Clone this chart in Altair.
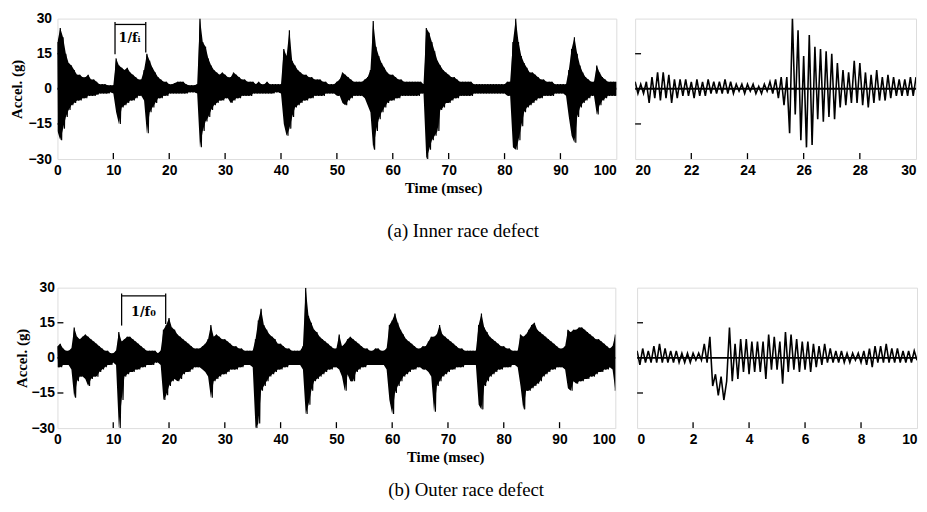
import altair as alt
import pandas as pd

# ---------------- data ----------------
# Main panels: upper / lower envelope of the acceleration signal, one value every 0.5 ms (0..100 ms)
MAIN_STEP = 0.5
INNER_UP = [
    20, 26, 22, 15, 11, 10, 8, 6, 6, 5,
    5, 6, 4, 4, 3, 2, 2, 2, 1.5, 1.5,
    1.5, 13, 10, 9, 8, 9, 7, 6, 5, 4,
    4, 8, 15, 12, 9, 7, 5, 4, 3, 3,
    2, 2, 2.5, 3, 3, 3, 2, 1.5, 1.5, 1.5,
    2, 30, 20, 18, 13, 10, 8, 7, 6, 7,
    6, 5, 5, 7, 6, 5, 4, 4, 3, 3,
    3, 2, 3, 2, 2, 3, 2, 2, 2, 2,
    2, 17, 14, 25, 12, 10, 8, 7, 6, 6,
    5, 5, 4, 4, 4, 3, 3, 2, 2, 2,
    3, 4, 7, 6, 5, 4, 3, 3, 3, 3,
    4, 5, 8, 29, 18, 14, 11, 9, 7, 6,
    6, 5, 4, 4, 3, 3, 3, 3, 3, 3,
    3, 2, 26, 24, 20, 16, 12, 10, 8, 7,
    6, 5, 5, 4, 3, 3, 3, 3, 3, 2,
    2, 2, 2, 2, 2, 2, 2, 2, 2, 2,
    2, 3, 3, 20, 30, 20, 14, 11, 9, 7,
    7, 6, 5, 4, 4, 3, 3, 3, 2, 2,
    2, 2, 2, 8, 17, 22, 15, 10, 7, 5,
    4, 3, 3, 10, 7, 5, 4, 3, 3, 3,
    3,
]
INNER_LO = [
    -18, -22, -17, -12, -9, -7, -6, -5, -5, -4,
    -4, -3, -3, -3, -2.5, -2, -2, -2, -2, -1.5,
    -2, -10, -15, -8, -7, -6, -5, -5, -4, -3,
    -3, -5, -19, -10, -8, -6, -4, -4, -3, -3,
    -2, -2, -2, -2, -2, -2, -2, -1.5, -1.5, -1.5,
    -2, -25, -18, -14, -12, -9, -7, -6, -5, -5,
    -4, -4, -6, -5, -4, -4, -3, -3, -3, -3,
    -2, -2, -2, -2, -2, -2, -2, -2, -1.5, -1.5,
    -2, -15, -20, -17, -12, -8, -7, -6, -5, -5,
    -4, -4, -3, -3, -3, -3, -2, -2, -2, -2,
    -3, -3, -6, -7, -5, -4, -3, -3, -3, -3,
    -4, -7, -10, -26, -18, -13, -10, -8, -6, -5,
    -5, -4, -4, -3, -3, -3, -3, -3, -3, -3,
    -2, -2, -30, -26, -22, -20, -18, -9, -8, -6,
    -6, -5, -4, -4, -3, -3, -3, -3, -3, -2,
    -2, -2, -2, -2, -2, -2, -2, -2, -2, -2,
    -2, -3, -3, -25, -26, -22, -16, -10, -8, -7,
    -6, -5, -4, -4, -3, -3, -3, -3, -2, -2,
    -2, -2, -3, -12, -20, -23, -12, -8, -6, -5,
    -4, -3, -3, -11, -7, -5, -4, -3, -3, -3,
    -3,
]
OUTER_UP = [
    5, 6, 4, 3, 3, 4, 13, 9, 8, 9,
    10, 9, 8, 7, 6, 5, 4, 3, 3, 2,
    2, 3, 11, 7, 8, 9, 9, 8, 7, 6,
    5, 4, 3, 3, 3, 3, 2, 3, 12, 14,
    17, 13, 12, 10, 9, 8, 7, 6, 5, 4,
    4, 4, 5, 6, 8, 14, 9, 10, 9, 8,
    8, 7, 6, 5, 5, 4, 4, 3, 3, 3,
    3, 8, 16, 21, 14, 12, 10, 9, 8, 6,
    6, 5, 4, 4, 3, 3, 3, 3, 5, 30,
    18, 15, 12, 11, 9, 8, 7, 6, 5, 4,
    4, 10, 5, 6, 8, 9, 8, 7, 6, 5,
    4, 4, 3, 3, 4, 4, 3, 3, 4, 14,
    16, 19, 15, 12, 10, 8, 7, 6, 5, 4,
    4, 5, 5, 7, 9, 9, 10, 14, 10, 9,
    8, 7, 6, 5, 4, 4, 3, 3, 3, 3,
    3, 14, 19, 13, 11, 9, 8, 7, 6, 5,
    5, 4, 4, 3, 3, 3, 10, 9, 10, 12,
    14, 15, 12, 11, 10, 9, 8, 7, 6, 5,
    4, 4, 5, 12, 11, 12, 12, 13, 13, 12,
    11, 10, 9, 8, 8, 7, 6, 5, 4, 5,
    10,
]
OUTER_LO = [
    -4, -4, -3, -3, -3, -5, -17, -10, -8, -8,
    -9, -12, -9, -8, -8, -6, -5, -4, -3, -3,
    -2, -3, -30, -18, -8, -7, -6, -6, -5, -5,
    -4, -4, -3, -3, -3, -2, -2, -3, -18, -16,
    -12, -10, -9, -10, -9, -7, -6, -6, -5, -4,
    -4, -4, -5, -6, -8, -17, -10, -9, -8, -7,
    -7, -6, -5, -5, -5, -4, -4, -3, -3, -3,
    -4, -30, -28, -14, -12, -10, -8, -7, -6, -5,
    -5, -4, -4, -3, -3, -3, -3, -3, -5, -24,
    -20, -14, -10, -9, -8, -7, -6, -5, -5, -4,
    -4, -5, -8, -14, -7, -10, -10, -6, -5, -4,
    -4, -3, -3, -3, -3, -3, -3, -3, -5, -18,
    -24, -15, -12, -10, -8, -7, -6, -5, -5, -4,
    -4, -5, -5, -6, -8, -23, -12, -10, -8, -7,
    -6, -5, -5, -4, -4, -4, -3, -3, -3, -3,
    -3, -20, -22, -12, -10, -8, -7, -6, -5, -5,
    -4, -4, -4, -3, -3, -4, -12, -22, -14, -14,
    -13, -12, -11, -10, -8, -7, -6, -5, -5, -4,
    -4, -4, -5, -13, -14, -10, -11, -10, -10, -9,
    -9, -8, -8, -7, -6, -6, -5, -5, -4, -5,
    -14,
]

# Zoomed panels: successive extremes of the oscillation, one every 0.1 ms
ZOOM_STEP = 0.1
INNER_ZOOM_T0 = 20.0
INNER_ZOOM = [
    3, -2, 2, -2, 3, -6, 5, -4, 7, -5,
    7, -4, 6, -6, 4, -4, 4, -3, 4, -3,
    3, -4, 4, -3, 3, -3, 4, -2, 3, -2,
    3, -2, 4, -2, 3, -2, 2, -1, 2, -2,
    2, -1, 2, -2, 1, -2, 2, -1, 3, -2,
    4, -4, 5, -7, 5, -19, 30, -11, 25, -22,
    14, -25, 23, -24, 18, -13, 17, -14, 16, -12,
    15, -13, 11, -8, 8, -7, 7, -6, 12, -6,
    11, -7, 7, -8, 6, -6, 8, -5, 5, -5,
    6, -4, 5, -3, 4, -3, 4, -3, 5, -3,
    5,
]
OUTER_ZOOM_T0 = 0.0
OUTER_ZOOM = [
    3, -3, 4, -2, 3, -2, 5, -2, 6, -2,
    4, -2, 3, -2, 3, -2, 2, -2, 2, -2,
    2, -1, 2, -1, 6, -2, 9, -12, -7, -16,
    -8, -18, -10, 13, -10, 6, -9, 8, -6, 8,
    -7, 7, -6, 7, -6, 7, -9, 10, -5, 9,
    -5, 7, -11, 11, -6, 10, -5, 8, -6, 7,
    -5, 7, -6, 6, -4, 5, -3, 6, -2, 4,
    -2, 3, -2, 3, -2, 2, -2, 2, -1, 2,
    -2, 3, -3, 4, -4, 5, -2, 5, -2, 6,
    -2, 4, -2, 4, -2, 3, -2, 3, -2, 3,
    -1,
]

MAIN_TICKS = [0, 10, 20, 30, 40, 50, 60, 70, 80, 90, 100]
INNER_ZOOM_TICKS = [20, 22, 24, 26, 28, 30]
OUTER_ZOOM_TICKS = [0, 2, 4, 6, 8, 10]
Y_TICKS = [-30, -15, 0, 15, 30]

# period annotations (ms, g): start, end, top, left-bottom, right-bottom, label x, label y
INNER_PERIOD = [10.3, 15.8, 27.5, 14.8, 15.5, 12.9, 21.5]
OUTER_PERIOD = [11.5, 19.4, 26.5, 13.8, 14.5, 15.4, 19.5]
INNER_PERIOD_LABEL = "1/fᵢ"
OUTER_PERIOD_LABEL = "1/f₀"

CAPTION_A = "(a)  Inner race defect"
CAPTION_B = "(b)  Outer race defect"

# ---------------- helpers ----------------
H = 142
LABEL_FONT = "Liberation Sans"
SERIF = "Liberation Serif"


def envelope_frame(up, lo, step):
    rows = []
    n = len(up)
    for k in range(n):
        t = k * step
        rows.append({"t": t, "a": up[k]})
        if k < n - 1:
            rows.append({"t": t + step / 2, "a": lo[k]})
        else:
            rows.append({"t": t, "a": lo[k]})
    return pd.DataFrame(rows)


def band_frame(up, lo, step):
    return pd.DataFrame({"t": [k * step for k in range(len(up))], "u": up, "l": lo})


def series_frame(vals, t0, step):
    return pd.DataFrame({"t": [t0 + i * step for i in range(len(vals))], "a": vals})


def panel(df, xdom, xticks, width, main, stroke_w, band=None, period=None, period_label=None,
          label_pad=6, title_pad=4, title_x=390):
    xs = alt.Scale(domain=xdom, nice=False, zero=False)
    ys = alt.Scale(domain=[-30, 30], nice=False, zero=False)
    last = xticks[-1]
    first = xticks[0]
    if main:
        align = {"condition": {"test": f"datum.value == {last}", "value": "right"}, "value": "center"}
    else:
        align = {"condition": [{"test": f"datum.value == {first}", "value": "left"},
                               {"test": f"datum.value == {last}", "value": "right"}],
                 "value": "center"}
    xaxis_kw = dict(
        values=xticks, ticks=False, domain=False, grid=False, labelFlush=False,
        labelFont=LABEL_FONT, labelFontSize=14, labelFontWeight="bold", labelColor="black",
        labelPadding=5, labelAlign=align,
    )
    if main:
        xaxis = alt.Axis(title="Time (msec)", titleFont=SERIF, titleFontSize=15,
                         titleFontWeight="bold", titleColor="black", titlePadding=3,
                         titleX=title_x, **xaxis_kw)
        yaxis = alt.Axis(values=Y_TICKS, ticks=False, domain=False, grid=False,
                         labelFont=LABEL_FONT, labelFontSize=14, labelFontWeight="bold",
                         labelColor="black", labelPadding=label_pad,
                         title="Accel. (g)", titleFont=SERIF, titleFontSize=15,
                         titleFontWeight="bold", titleColor="black", titlePadding=title_pad)
    else:
        xaxis = alt.Axis(title=None, **xaxis_kw)
        yaxis = None

    X = lambda f: alt.X(f, scale=xs, axis=xaxis)
    Y = lambda f: alt.Y(f, scale=ys, axis=yaxis)

    layers = []
    if band is not None:
        layers.append(alt.Chart(band).mark_area(color="black", opacity=1, clip=True).encode(
            x=X("t:Q"), y=Y("u:Q"), y2="l:Q"))
    layers.append(alt.Chart(df).mark_line(color="black", strokeWidth=stroke_w, clip=True).encode(
        x=X("t:Q"), y=Y("a:Q")))
    layers.append(alt.Chart(pd.DataFrame({"v": [0]})).mark_rule(color="black", strokeWidth=2).encode(
        y=Y("v:Q")))
    inner_ticks = [v for v in xticks if v not in (first, last)]
    layers.append(alt.Chart(pd.DataFrame({"v": inner_ticks})).mark_rule(color="black", strokeWidth=1.3).encode(
        x=X("v:Q"), y=alt.value(H), y2=alt.value(H - 6)))
    layers.append(alt.Chart(pd.DataFrame({"v": [-15, 15]})).mark_rule(color="black", strokeWidth=1.3).encode(
        y=Y("v:Q"), x=alt.value(0), x2=alt.value(6)))
    if period is not None:
        x1, x2, ytop, yb1, yb2, lx, ly = period
        bar = pd.DataFrame({"x1": [x1], "x2": [x2], "y": [ytop]})
        legs = pd.DataFrame({"x": [x1, x2], "y1": [yb1, yb2], "y2": [ytop + 1.0, ytop + 1.0]})
        layers.append(alt.Chart(bar).mark_rule(color="black", strokeWidth=1.3).encode(
            x=X("x1:Q"), x2="x2:Q", y=Y("y:Q")))
        layers.append(alt.Chart(legs).mark_rule(color="black", strokeWidth=1.3).encode(
            x=X("x:Q"), y=Y("y1:Q"), y2="y2:Q"))
        layers.append(alt.Chart(pd.DataFrame({"x": [lx], "y": [ly], "s": [period_label]})).mark_text(
            font="DejaVu Serif", fontSize=13, fontWeight="bold", color="black").encode(
            x=X("x:Q"), y=Y("y:Q"), text="s:N"))
    return alt.layer(*layers).properties(width=width, height=H)


def caption(text, offset):
    return alt.TitleParams(text, orient="bottom", anchor="middle", font=SERIF, fontSize=19,
                           fontWeight="normal", color="black", offset=offset)


row_a = alt.hconcat(
    panel(envelope_frame(INNER_UP, INNER_LO, MAIN_STEP), [0, 100], MAIN_TICKS, 565, True, 1.2,
          band_frame(INNER_UP, INNER_LO, MAIN_STEP), INNER_PERIOD, INNER_PERIOD_LABEL,
          label_pad=6, title_pad=4, title_x=390),
    panel(series_frame(INNER_ZOOM, INNER_ZOOM_T0, ZOOM_STEP), [20, 30], INNER_ZOOM_TICKS, 284, False, 1.6),
    spacing=15,
).properties(title=caption(CAPTION_A, 26))

row_b = alt.hconcat(
    panel(envelope_frame(OUTER_UP, OUTER_LO, MAIN_STEP), [0, 100], MAIN_TICKS, 564, True, 1.2,
          band_frame(OUTER_UP, OUTER_LO, MAIN_STEP), OUTER_PERIOD, OUTER_PERIOD_LABEL,
          label_pad=3, title_pad=2, title_x=392),
    panel(series_frame(OUTER_ZOOM, OUTER_ZOOM_T0, ZOOM_STEP), [0, 10], OUTER_ZOOM_TICKS, 283, False, 1.6),
    spacing=18,
).properties(title=caption(CAPTION_B, 16))

chart = alt.vconcat(row_a, row_b, spacing=39).properties(
    padding={"left": 0, "top": 0, "right": 0, "bottom": 0}
).configure_view(stroke="black", strokeWidth=1.5).configure(background="white")

chart.save("out.html", embed_options={"renderer": "svg", "actions": False})
